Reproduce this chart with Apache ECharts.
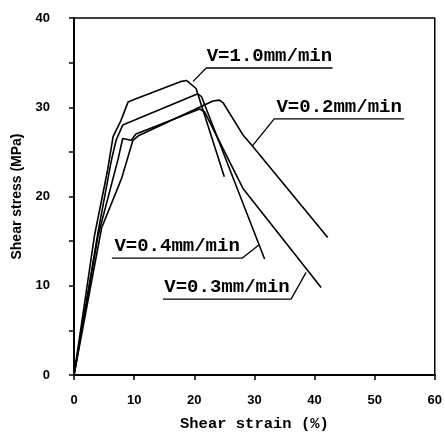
<!DOCTYPE html>
<html>
<head>
<meta charset="utf-8">
<script src="https://cdn.jsdelivr.net/npm/echarts@6/dist/echarts.min.js"></script>
<style>
  html, body { margin: 0; padding: 0; background: #fff; }
  #chart { width: 445px; height: 437px; }
</style>
</head>
<body>
<div id="chart"></div>
<script>
  // shear strain (%), shear stress (MPa)
  var v10 = [[0, 0], [3.4, 15.6], [5.6, 23.0], [6.5, 26.7], [7.8, 28.5], [9.0, 30.6], [10.1, 30.9],
    [17.9, 32.9], [18.7, 33.0], [20.3, 32.1], [25.0, 22.2]];
  var v04 = [[0, 0], [4.0, 16.0], [6.2, 24.0], [7.0, 26.3], [8.1, 28.0], [20.6, 31.5], [21.2, 31.2],
    [31.7, 13.0]];
  var v03 = [[0, 0], [4.0, 15.6], [7.3, 24.1], [8.1, 26.5], [9.5, 26.3], [10.3, 27.0], [20.9, 29.8],
    [21.7, 29.5], [28.1, 20.9], [41.1, 9.8]];
  var v02 = [[0, 0], [4.6, 16.5], [7.9, 22.0], [9.8, 26.3], [10.7, 26.8], [23.1, 30.7], [24.2, 30.8],
    [24.8, 30.5], [28.1, 26.9], [29.5, 25.8], [42.2, 15.4]];

  var seriesNames = ['V=1.0mm/min', 'V=0.4mm/min', 'V=0.3mm/min', 'V=0.2mm/min'];
  var seriesData = [v10, v04, v03, v02];

  // callout leader: tip on curve -> elbow -> end of underline
  var calloutLines = [
    [[19.8, 32.9], [22.0, 34.4], [43.0, 34.4]],
    [[30.8, 14.6], [28.0, 13.1], [6.3, 13.1]],
    [[38.6, 11.5], [36.1, 8.5], [14.8, 8.5]],
    [[29.7, 25.7], [33.3, 28.7], [54.9, 28.7]]
  ];

  var xTicks = [0, 10, 20, 30, 40, 50, 60];
  var yTicks = [0, 10, 20, 30, 40];

  var monoFont = '"Liberation Mono", "DejaVu Sans Mono", monospace';
  var sansFont = '"Liberation Sans", Arial, sans-serif';

  var chart = echarts.init(document.getElementById('chart'));

  var series = [];
  seriesData.forEach(function (d, i) {
    series.push({
      name: seriesNames[i],
      type: 'line',
      data: d,
      symbol: 'none',
      lineStyle: {color: '#000', width: 1.6},
      z: 3
    });
  });
  calloutLines.forEach(function (d, i) {
    series.push({
      name: 'callout' + i,
      type: 'line',
      data: d,
      symbol: 'none',
      lineStyle: {color: '#000', width: 1.3},
      silent: true,
      z: 2
    });
  });

  var option = {
    animation: false,
    grid: {
      left: 74, right: 9, top: 18, bottom: 59,
      show: true, borderColor: '#000', borderWidth: 1.5
    },
    xAxis: {
      type: 'value',
      min: 0, max: 60, interval: 10,
      name: 'Shear strain (%)',
      nameLocation: 'middle',
      nameGap: 41,
      nameTextStyle: {fontFamily: monoFont, fontWeight: 'bold', fontSize: 15.5, color: '#000'},
      axisLine: {lineStyle: {color: '#000', width: 2}},
      axisTick: {inside: false, length: 5, lineStyle: {color: '#000', width: 1.5}},
      axisLabel: {
        margin: 19, color: '#000', fontWeight: 'bold', fontSize: 13, fontFamily: sansFont,
        formatter: function (v) { return xTicks.indexOf(v) >= 0 ? String(v) : ''; }
      },
      splitLine: {show: false}
    },
    yAxis: {
      type: 'value',
      min: 0, max: 40, interval: 5,
      name: 'Shear stress (MPa)',
      nameLocation: 'middle',
      nameGap: 47,
      nameTextStyle: {fontFamily: sansFont, fontWeight: 'bold', fontSize: 14, color: '#000'},
      axisLine: {lineStyle: {color: '#000', width: 2}},
      axisTick: {inside: false, length: 5, lineStyle: {color: '#000', width: 1.5}},
      axisLabel: {
        margin: 24, color: '#000', fontWeight: 'bold', fontSize: 13, fontFamily: sansFont,
        formatter: function (v) { return yTicks.indexOf(v) >= 0 ? String(v) : ''; }
      },
      splitLine: {show: false}
    },
    series: series
  };

  chart.setOption(option);

  // callout texts sit on their underlines
  var texts = calloutLines.map(function (d, i) {
    var a = chart.convertToPixel({gridIndex: 0}, d[1]);
    var b = chart.convertToPixel({gridIndex: 0}, d[2]);
    return {
      type: 'text',
      x: (a[0] + b[0]) / 2,
      y: a[1] - 2,
      style: {
        text: seriesNames[i],
        fill: '#000',
        font: 'bold 19px ' + monoFont,
        textAlign: 'center',
        textVerticalAlign: 'bottom'
      },
      z: 10
    };
  });
  chart.setOption({graphic: texts});
</script>
</body>
</html>
